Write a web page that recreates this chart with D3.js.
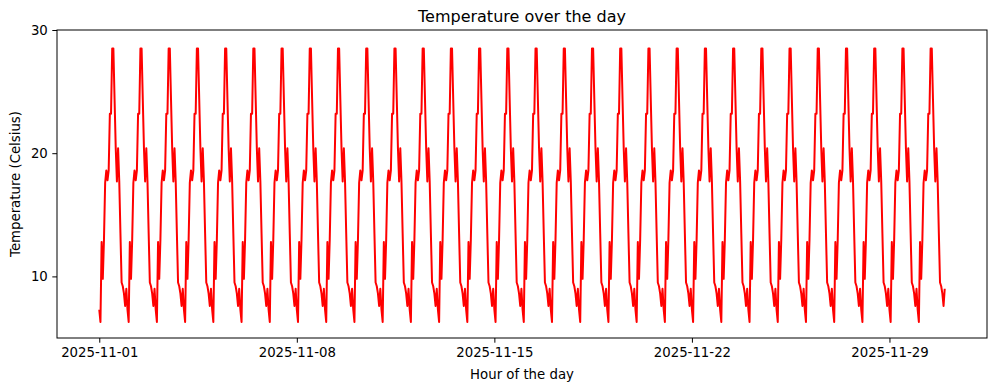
<!DOCTYPE html>
<html>
<head>
<meta charset="utf-8">
<script src="https://cdn.jsdelivr.net/npm/d3@7"></script>
<style>
  body { margin: 0; background: #fff; }
  text { font-family: "DejaVu Sans", sans-serif; fill: #000; }
</style>
</head>
<body>
<script>
// daily temperature profile, one value per hour (same every day)
var hourlyTemps = [7.3, 6.3, 12.8, 9.8, 13.0, 17.6, 18.6, 17.8, 18.6, 23.2, 23.2, 28.5,
                   28.5, 24.4, 20.4, 17.7, 20.4, 17.7, 13.5, 9.5, 9.2, 8.6, 7.6, 9.0];
var dayDates = ["2025-11-01","2025-11-02","2025-11-03","2025-11-04","2025-11-05","2025-11-06",
                "2025-11-07","2025-11-08","2025-11-09","2025-11-10","2025-11-11","2025-11-12",
                "2025-11-13","2025-11-14","2025-11-15","2025-11-16","2025-11-17","2025-11-18",
                "2025-11-19","2025-11-20","2025-11-21","2025-11-22","2025-11-23","2025-11-24",
                "2025-11-25","2025-11-26","2025-11-27","2025-11-28","2025-11-29","2025-11-30"];
var xTickLabels = ["2025-11-01","2025-11-08","2025-11-15","2025-11-22","2025-11-29"];
var yTicks = [10, 20, 30];

var width = 997, height = 391;
var margin = {top: 30, right: 10, bottom: 53, left: 57};

var data = [];
dayDates.forEach(function(d) {
  var base = new Date(d + "T00:00:00Z");
  hourlyTemps.forEach(function(t, h) {
    data.push({time: new Date(base.getTime() + h * 3600e3), temp: t});
  });
});

var svg = d3.select("body").append("svg")
    .attr("width", width)
    .attr("height", height);

var t0 = data[0].time.getTime(), t1 = data[data.length - 1].time.getTime();
var pad = (t1 - t0) * 0.05;

var x = d3.scaleUtc()
    .domain([new Date(t0 - pad), new Date(t1 + pad)])
    .range([margin.left, width - margin.right]);

var y = d3.scaleLinear()
    .domain([5, 30])
    .range([height - margin.bottom, margin.top]);

var line = d3.line()
    .x(function(d) { return x(d.time); })
    .y(function(d) { return y(d.temp); });

svg.append("path")
    .datum(data)
    .attr("fill", "none")
    .attr("stroke", "#ff0000")
    .attr("stroke-width", 2)
    .attr("stroke-linejoin", "round")
    .attr("d", line);

var xAxis = d3.axisBottom(x)
    .tickValues(xTickLabels.map(function(s) { return new Date(s + "T00:00:00Z"); }))
    .tickFormat(d3.utcFormat("%Y-%m-%d"))
    .tickSize(4.7)
    .tickPadding(4.5);

var yAxis = d3.axisLeft(y)
    .tickValues(yTicks)
    .tickSize(4.7)
    .tickPadding(4.5);

var gx = svg.append("g")
    .attr("transform", "translate(0," + (height - margin.bottom) + ")")
    .call(xAxis);
var gy = svg.append("g")
    .attr("transform", "translate(" + margin.left + ",0)")
    .call(yAxis);

[gx, gy].forEach(function(g) {
  g.select(".domain").remove();
  g.selectAll(".tick line").attr("stroke", "#000").attr("stroke-width", 1);
  g.selectAll(".tick text").attr("font-size", "13.3px").attr("fill", "#000")
    .style("font-family", "DejaVu Sans, sans-serif");
});

// frame
svg.append("rect")
    .attr("x", margin.left)
    .attr("y", margin.top)
    .attr("width", width - margin.left - margin.right)
    .attr("height", height - margin.top - margin.bottom)
    .attr("fill", "none")
    .attr("stroke", "#000")
    .attr("stroke-width", 1);

svg.append("text")
    .attr("x", (margin.left + width - margin.right) / 2)
    .attr("y", 22)
    .attr("text-anchor", "middle")
    .attr("font-size", "16px")
    .text("Temperature over the day");

svg.append("text")
    .attr("x", (margin.left + width - margin.right) / 2)
    .attr("y", 379)
    .attr("text-anchor", "middle")
    .attr("font-size", "13.3px")
    .text("Hour of the day");

svg.append("text")
    .attr("transform", "translate(20," + ((margin.top + height - margin.bottom) / 2) + ") rotate(-90)")
    .attr("text-anchor", "middle")
    .attr("font-size", "13.3px")
    .text("Temperature (Celsius)");
</script>
</body>
</html>
